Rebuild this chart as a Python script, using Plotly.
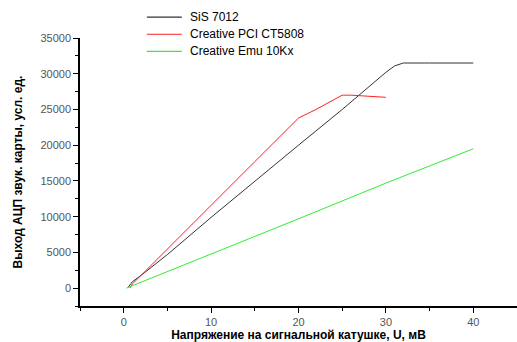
import plotly.graph_objects as go

sis_x = [0.5, 1, 2, 5, 10, 15, 20, 25, 28, 30, 31, 32, 35, 40]
sis_y = [100, 900, 1800, 4700, 9900, 15000, 20000, 25000, 28200, 30200, 31100, 31500, 31500, 31500]

ct_x = [0.7, 1, 2, 5, 10, 15, 20, 22, 25, 26, 30]
ct_y = [0, 600, 1800, 5500, 11600, 17700, 23800, 25000, 27000, 27000, 26700]

emu_x = [0.3, 5, 10, 20, 30, 40]
emu_y = [0, 2300, 4700, 9700, 14700, 19500]

names = ["SiS 7012", "Creative PCI CT5808", "Creative Emu 10Kx"]
colors = ["#333333", "#ff2020", "#30ee30"]

fig = go.Figure()
for xs, ys, n, c in zip([sis_x, ct_x, emu_x], [sis_y, ct_y, emu_y], names, colors):
    fig.add_trace(go.Scatter(x=xs, y=ys, mode="lines", name=n,
                             line=dict(color=c, width=1), showlegend=False))

# custom compact legend (paper coordinates)
leg_x0, leg_x1, leg_tx = 0.153, 0.233, 0.246
leg_y0, leg_dy = 1.078, 0.064
for i, (n, c) in enumerate(zip(names, colors)):
    yy = leg_y0 - i * leg_dy
    fig.add_shape(type="line", xref="paper", yref="paper",
                  x0=leg_x0, x1=leg_x1, y0=yy, y1=yy,
                  line=dict(color=c, width=1.2))
    fig.add_annotation(xref="paper", yref="paper", x=leg_tx, y=yy,
                       text=n, showarrow=False, xanchor="left", yanchor="middle",
                       font=dict(size=12, color="#000"))

fig.update_layout(
    width=517, height=342,
    margin=dict(l=80, r=0, t=38, b=36),
    paper_bgcolor="white", plot_bgcolor="white",
    font=dict(family="Liberation Sans, Arial, sans-serif", size=11, color="#000"),
    showlegend=False,
)
fig.update_xaxes(
    range=[-5, 45], showgrid=False, zeroline=False,
    showline=True, linecolor="#000", linewidth=1.5,
    ticks="outside", ticklen=5, tickwidth=1, tickcolor="#000",
    tickvals=[0, 10, 20, 30, 40],
    tickfont=dict(color="#555", size=11),
    minor=dict(ticks="outside", ticklen=3, tickvals=[-5, 5, 15, 25, 35, 45], tickcolor="#000"),
    title=dict(text="<b>Напряжение на сигнальной катушке, U, мВ</b>",
               font=dict(size=12, color="#000"), standoff=4),
)
fig.update_yaxes(
    range=[-2500, 35000], showgrid=False, zeroline=False,
    showline=True, linecolor="#000", linewidth=1.5,
    ticks="outside", ticklen=5, tickwidth=1, tickcolor="#000",
    tickvals=[0, 5000, 10000, 15000, 20000, 25000, 30000, 35000],
    tickformat="d",
    tickfont=dict(color="#555", size=11),
    minor=dict(ticks="outside", ticklen=3, dtick=2500, tick0=-2500, tickcolor="#000"),
    title=dict(text="<b>Выход АЦП звук. карты, усл. ед.</b>",
               font=dict(size=12, color="#000"), standoff=15),
)
fig.write_html("out.html", config={"displayModeBar": False},
               post_script="document.body.style.margin='0';")
